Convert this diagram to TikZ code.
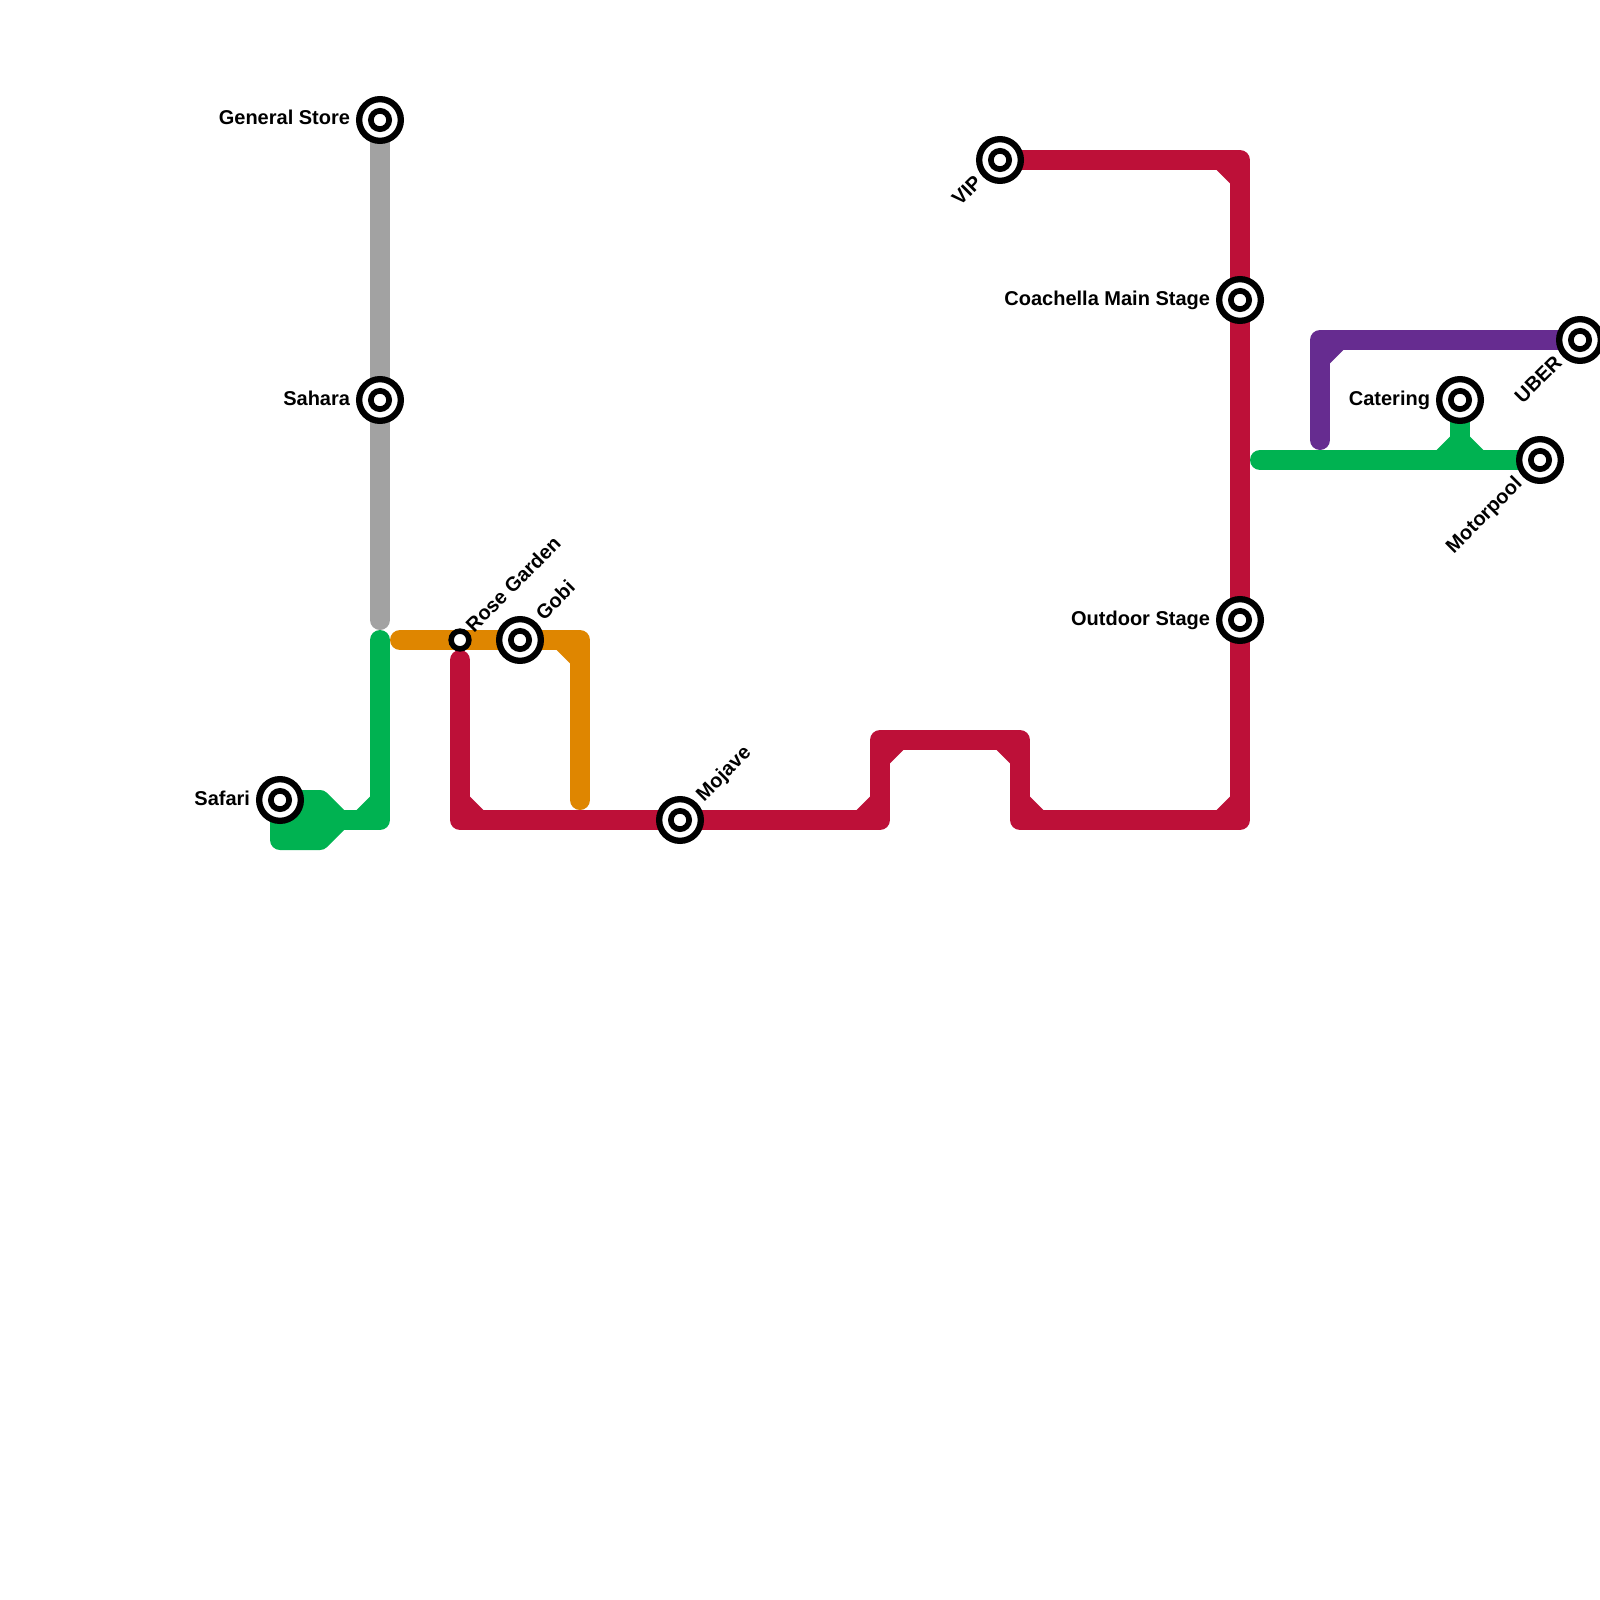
\documentclass[tikz,border=0pt]{standalone}
\usepackage{fontspec}
\setmainfont{Liberation Sans}
\definecolor{cRed}{HTML}{BD1038}
\definecolor{cGreen}{HTML}{00B251}
\definecolor{cOrange}{HTML}{DF8600}
\definecolor{cPurple}{HTML}{662C90}
\definecolor{cGray}{HTML}{A2A2A2}
\tikzset{
  metro/.style={line width=10pt,line cap=round,line join=round},
  stnouter/.style={circle,draw=black,fill=white,line width=3.15pt,minimum size=20.85pt,inner sep=0pt,outer sep=0pt},
  stninner/.style={circle,draw=black,fill=white,line width=2.85pt,minimum size=9.15pt,inner sep=0pt,outer sep=0pt},
  stnsmall/.style={circle,draw=black,fill=white,line width=2.75pt,minimum size=8.9pt,inner sep=0pt,outer sep=0pt},
  lbl/.style={font=\bfseries\fontsize{10}{12}\selectfont,text=black,inner sep=0pt,outer sep=0pt},
}
\newcommand{\stationmark}[1]{\node[stnouter] (#1) at (#1c) {};\node[stninner] (#1i) at (#1c) {};}
\begin{document}
\begin{tikzpicture}[x=0.5pt,y=-0.5pt]
\path[use as bounding box] (0,0) rectangle (1600,1600);
\clip (0,0) rectangle (1600,1600);
% stations
\coordinate (gsc) at (380,120);
\coordinate (sac) at (380,400);
\coordinate (sfc) at (280,800);
\coordinate (rgc) at (460,640);
\coordinate (goc) at (520,640);
\coordinate (moc) at (680,820);
\coordinate (vic) at (1000,160);
\coordinate (ccc) at (1240,300);
\coordinate (osc) at (1240,620);
\coordinate (ubc) at (1580,340);
\coordinate (cac) at (1460,400);
\coordinate (mpc) at (1540,460);
% free ends and bends
\coordinate (grayend) at (380,620);
\coordinate (gtop) at (380,640);
\coordinate (gcorner) at (380,820);
\coordinate (gmid) at (340,820);
\coordinate (gb1) at (320,800);
\coordinate (gb2) at (320,840);
\coordinate (gb3) at (280,840);
\coordinate (ostart) at (400,640);
\coordinate (ocorner) at (580,640);
\coordinate (oend) at (580,800);
\coordinate (rstart) at (460,660);
\coordinate (r1) at (460,820);
\coordinate (r2) at (880,820);
\coordinate (r3) at (880,740);
\coordinate (r4) at (1020,740);
\coordinate (r5) at (1020,820);
\coordinate (r6) at (1240,820);
\coordinate (r7) at (1240,160);
\coordinate (pstart) at (1320,440);
\coordinate (pcorner) at (1320,340);
\coordinate (gstart) at (1260,460);
\coordinate (gjoin) at (1460,460);
% lines
\draw[metro,cGray] (gsc) -- (grayend);
\draw[metro,cGreen] (gtop) -- (gcorner) -- (gmid);
\filldraw[metro,cGreen] (sfc) -- (gb1) -- (gmid) -- (gb2) -- (gb3) -- cycle;
\fill[cGreen] (370,810) -- ++(-13.33,0) -- ++(13.33,-13.33) -- cycle;
\draw[metro,cOrange] (ostart) -- (ocorner) -- (oend);
\fill[cOrange] (570,650) -- ++(-13.33,0) -- ++(13.33,13.33) -- cycle;
\draw[metro,cRed] (rstart) -- (r1) -- (r2) -- (r3) -- (r4) -- (r5) -- (r6) -- (r7) -- (vic);
\fill[cRed] (470,810) -- ++(13.33,0) -- ++(-13.33,-13.33) -- cycle;
\fill[cRed] (870,810) -- ++(-13.33,0) -- ++(13.33,-13.33) -- cycle;
\fill[cRed] (890,750) -- ++(13.33,0) -- ++(-13.33,13.33) -- cycle;
\fill[cRed] (1010,750) -- ++(-13.33,0) -- ++(13.33,13.33) -- cycle;
\fill[cRed] (1030,810) -- ++(13.33,0) -- ++(-13.33,-13.33) -- cycle;
\fill[cRed] (1230,810) -- ++(-13.33,0) -- ++(13.33,-13.33) -- cycle;
\fill[cRed] (1230,170) -- ++(-13.33,0) -- ++(13.33,13.33) -- cycle;
\draw[metro,cPurple] (pstart) -- (pcorner) -- (ubc);
\fill[cPurple] (1330,350) -- ++(13.33,0) -- ++(-13.33,13.33) -- cycle;
\draw[metro,cGreen] (gstart) -- (mpc);
\draw[metro,cGreen,line cap=butt] (cac) -- (gjoin);
\fill[cGreen] (1450,450) -- ++(-13.33,0) -- ++(13.33,-13.33) -- cycle;
\fill[cGreen] (1470,450) -- ++(13.33,0) -- ++(-13.33,-13.33) -- cycle;
% station marks
\stationmark{gs}\stationmark{sa}\stationmark{sf}\stationmark{go}\stationmark{mo}
\stationmark{vi}\stationmark{cc}\stationmark{os}\stationmark{ub}\stationmark{ca}\stationmark{mp}
\node[stnsmall] (rg) at (rgc) {};
% labels
\node[lbl,anchor=base east] (lgs) at (350,125) {General Store};
\node[lbl,anchor=base east] (lsa) at (350,405) {Sahara};
\node[lbl,anchor=base east] (lsf) at (250,805) {Safari};
\node[lbl,anchor=base east] (lcc) at (1210,305) {Coachella Main Stage};
\node[lbl,anchor=base east] (los) at (1210,625) {Outdoor Stage};
\node[lbl,anchor=base east] (lca) at (1430,405) {Catering};
\node[lbl,anchor=base west,rotate=45] (lrg) at (474,633) {Rose Garden};
\node[lbl,anchor=base west,rotate=45] (lgo) at (544,621) {Gobi};
\node[lbl,anchor=base west,rotate=45] (lmo) at (704,802) {Mojave};
\node[lbl,anchor=base east,rotate=45] (lvi) at (983,184) {VIP};
\node[lbl,anchor=base east,rotate=45] (lub) at (1563,364) {UBER};
\node[lbl,anchor=base east,rotate=45] (lmp) at (1523,485) {Motorpool};
\end{tikzpicture}
\end{document}
